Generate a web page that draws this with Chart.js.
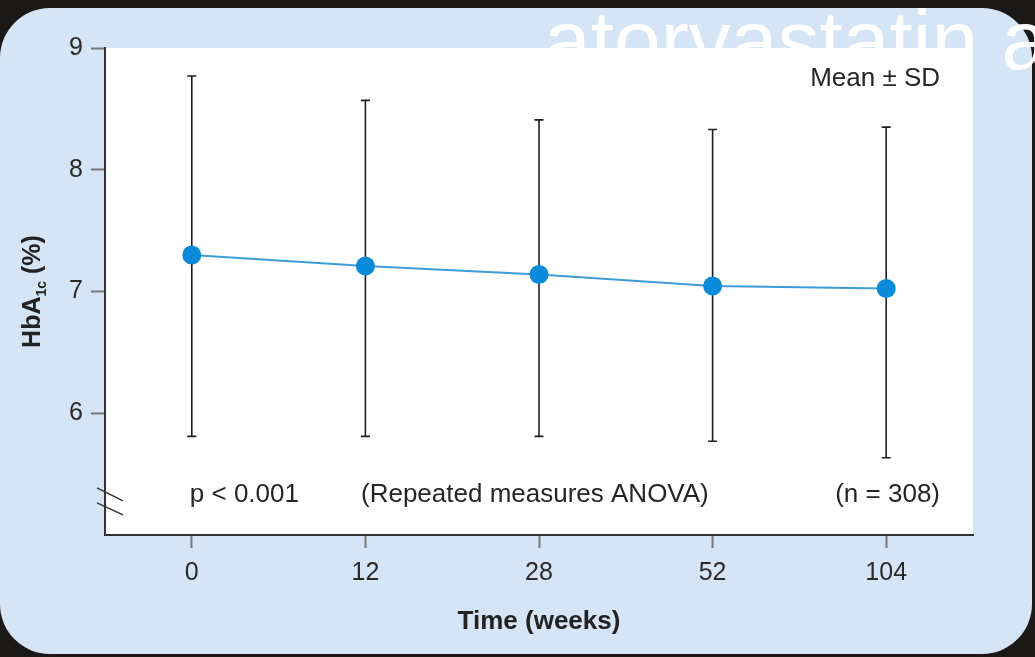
<!DOCTYPE html>
<html><head><meta charset="utf-8">
<script src="https://cdn.jsdelivr.net/npm/chart.js@4.4.1/dist/chart.umd.min.js"></script>
<style>html,body{margin:0;padding:0;background:#1b1917;}#wrap{width:1035px;height:657px;position:relative}</style>
</head><body><div id="wrap"><canvas id="c"></canvas></div>
<script>
const weeks = ['0', '12', '28', '52', '104'];
const meanHbA1c = [7.30, 7.21, 7.14, 7.045, 7.025];
const sdUpper = [8.77, 8.57, 8.41, 8.33, 8.35];
const sdLower = [5.81, 5.81, 5.81, 5.77, 5.635];
const yTickValues = [6, 7, 8, 9];
const yMin = 5, yMax = 9;
const headerText = 'atorvastatin a';
const legendNote = 'Mean \u00B1 SD';
const pValueText = 'p < 0.001';
const testText = '(Repeated measures ANOVA)';
const sampleText = '(n = 308)';
const xTitle = 'Time (weeks)';

const FONT = '"Liberation Sans", Arial, Helvetica, sans-serif';

function roundRect(ctx, x, y, w, h, r) {
  ctx.beginPath();
  ctx.moveTo(x + r, y);
  ctx.lineTo(x + w - r, y);
  ctx.arcTo(x + w, y, x + w, y + r, r);
  ctx.lineTo(x + w, y + h - r);
  ctx.arcTo(x + w, y + h, x + w - r, y + h, r);
  ctx.lineTo(x + r, y + h);
  ctx.arcTo(x, y + h, x, y + h - r, r);
  ctx.lineTo(x, y + r);
  ctx.arcTo(x, y, x + r, y, r);
  ctx.closePath();
}

const decor = {
  id: 'decor',
  beforeDraw(chart) {
    const ctx = chart.ctx, a = chart.chartArea;
    ctx.save();
    ctx.fillStyle = '#1b1917';
    ctx.fillRect(0, 0, chart.width, chart.height);
    ctx.fillStyle = '#d5e5f5';
    roundRect(ctx, 0, 8, 1032, 646, 50);
    ctx.fill();
    ctx.fillStyle = '#ffffff';
    ctx.font = '84px ' + FONT;
    ctx.textBaseline = 'alphabetic';
    ctx.textAlign = 'left';
    ctx.fillText(headerText, 544, 69);
    ctx.fillRect(a.left, a.top, a.right - a.left, a.bottom - a.top);
    ctx.restore();
  },
  beforeDatasetsDraw(chart) {
    const ctx = chart.ctx, xs = chart.scales.x, ys = chart.scales.y;
    ctx.save();
    ctx.strokeStyle = '#1e1e1e';
    ctx.lineWidth = 1.6;
    for (let i = 0; i < meanHbA1c.length; i++) {
      const x = xs.getPixelForValue(i);
      const yt = ys.getPixelForValue(sdUpper[i]);
      const yb = ys.getPixelForValue(sdLower[i]);
      ctx.beginPath();
      ctx.moveTo(x, yt); ctx.lineTo(x, yb);
      ctx.moveTo(x - 4.5, yt); ctx.lineTo(x + 4.5, yt);
      ctx.moveTo(x - 4.5, yb); ctx.lineTo(x + 4.5, yb);
      ctx.stroke();
    }
    ctx.restore();
  },
  afterDraw(chart) {
    const ctx = chart.ctx, a = chart.chartArea, xs = chart.scales.x, ys = chart.scales.y;
    ctx.save();
    ctx.fillStyle = '#262626';
    ctx.font = '26px ' + FONT;
    ctx.textBaseline = 'middle';
    ctx.textAlign = 'right';
    ctx.fillText(legendNote, a.right - 33, ys.getPixelForValue(8.75));
    const yNote = ys.getPixelForValue(5.33);
    ctx.fillText(sampleText, a.right - 33, yNote);
    ctx.textAlign = 'left';
    ctx.fillText(pValueText, xs.getPixelForValue(0) - 2, yNote);
    ctx.fillText(testText, a.left + 256, yNote);
    // axis break marks
    ctx.strokeStyle = '#333';
    ctx.lineWidth = 1.5;
    const yb = ys.getPixelForValue(5.33);
    ctx.beginPath();
    ctx.moveTo(a.left - 8, yb - 7); ctx.lineTo(a.left + 18, yb + 6);
    ctx.moveTo(a.left - 8, yb + 8); ctx.lineTo(a.left + 18, yb + 20);
    ctx.stroke();
    // y title with subscript
    ctx.translate(31, (a.top + a.bottom) / 2);
    ctx.rotate(-Math.PI / 2);
    ctx.fillStyle = '#222';
    const big = 'bold 25px ' + FONT, small = 'bold 14px ' + FONT;
    ctx.font = big; const w1 = ctx.measureText('HbA').width;
    ctx.font = small; const w2 = ctx.measureText('1c').width;
    ctx.font = big; const w3 = ctx.measureText(' (%)').width;
    let x0 = -(w1 + w2 + w3) / 2;
    ctx.textAlign = 'left';
    ctx.textBaseline = 'alphabetic';
    ctx.font = big; ctx.fillText('HbA', x0, 9);
    ctx.font = small; ctx.fillText('1c', x0 + w1, 15);
    ctx.font = big; ctx.fillText(' (%)', x0 + w1 + w2, 9);
    ctx.restore();
  }
};

new Chart(document.getElementById('c'), {
  type: 'line',
  data: {
    labels: weeks,
    datasets: [{
      data: meanHbA1c,
      borderColor: '#3e9bd9',
      borderWidth: 2,
      pointRadius: 9.5,
      pointHoverRadius: 9.5,
      pointBackgroundColor: '#0a8bd9',
      pointBorderColor: '#0a8bd9',
      pointBorderWidth: 0,
      tension: 0
    }]
  },
  options: {
    responsive: true,
    maintainAspectRatio: false,
    animation: false,
    devicePixelRatio: 1,
    events: [],
    layout: { padding: { top: 48, right: 62, left: 0, bottom: 0 } },
    plugins: { legend: { display: false }, tooltip: { enabled: false } },
    scales: {
      x: {
        type: 'category',
        offset: true,
        afterFit(s) { s.height = 122; },
        grid: { drawOnChartArea: false, drawTicks: true, tickLength: 13, tickColor: '#777', tickWidth: 2 },
        border: { display: true, color: '#333', width: 2 },
        ticks: { color: '#2a2a2a', font: { family: FONT, size: 25 }, padding: 10, maxRotation: 0 },
        title: { display: true, text: xTitle, color: '#222', font: { family: FONT, size: 26, weight: 'bold' }, padding: { top: 0, bottom: 20 } }
      },
      y: {
        min: yMin, max: yMax,
        afterFit(s) { s.width = 105; },
        afterBuildTicks(s) { s.ticks = yTickValues.map(v => ({ value: v })); },
        grid: { drawOnChartArea: false, drawTicks: true, tickLength: 14, tickColor: '#777', tickWidth: 2 },
        border: { display: true, color: '#333', width: 2 },
        ticks: { color: '#2a2a2a', font: { family: FONT, size: 25 }, padding: 8 }
      }
    }
  },
  plugins: [decor]
});
</script>
</body></html>
